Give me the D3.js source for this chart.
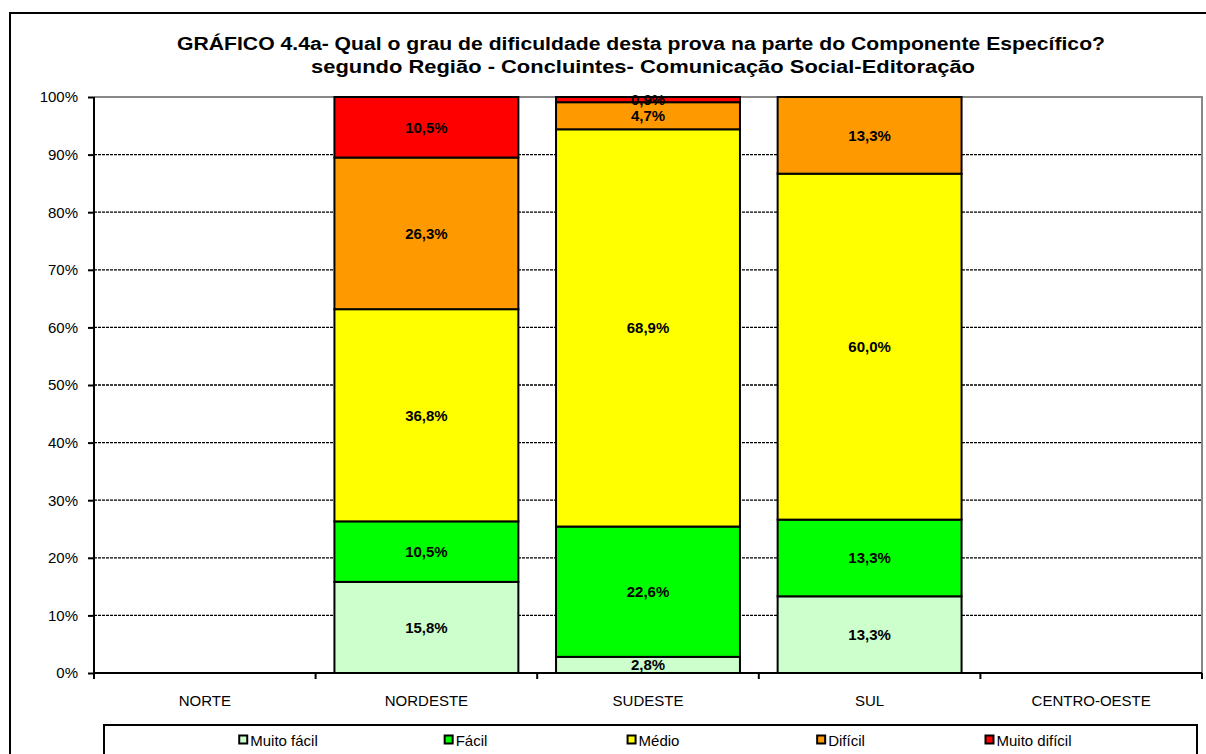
<!DOCTYPE html>
<html>
<head>
<meta charset="utf-8">
<script src="https://cdn.jsdelivr.net/npm/d3@7"></script>
<style>
  body { margin: 0; background: #fff; }
  svg { display: block; font-family: "Liberation Sans", Arial, sans-serif; }
</style>
</head>
<body>
<div id="chart"></div>
<script>
const regions = ['NORTE', 'NORDESTE', 'SUDESTE', 'SUL', 'CENTRO-OESTE']
const levels = ['Muito fácil', 'Fácil', 'Médio', 'Difícil', 'Muito difícil']
const muitoFacil = [null, 15.8, 2.8, 13.3, null]
const facil = [null, 10.5, 22.6, 13.3, null]
const medio = [null, 36.8, 68.9, 60.0, null]
const dificil = [null, 26.3, 4.7, 13.3, null]
const muitoDificil = [null, 10.5, 0.9, null, null]
const colors = ['#CCFFCC', '#00FF00', '#FFFF00', '#FF9900', '#FF0000']
const yTicks = [0, 10, 20, 30, 40, 50, 60, 70, 80, 90, 100]

const series = [muitoFacil, facil, medio, dificil, muitoDificil]

const W = 1206, H = 754
const svg = d3.select('#chart').append('svg').attr('width', W).attr('height', H)

// outer frame
svg.append('rect')
    .attr('x', 10).attr('y', 13).attr('width', W + 10).attr('height', H + 10)
    .attr('fill', 'none').attr('stroke', '#000').attr('stroke-width', 2)

// title
const title = svg.append('text')
    .attr('text-anchor', 'middle')
    .style('font-weight', 'bold').style('font-size', '18px')
title.append('tspan').attr('x', 641).attr('y', 50)
    .attr('textLength', 928).attr('lengthAdjust', 'spacingAndGlyphs')
    .text('GRÁFICO 4.4a- Qual o grau de dificuldade desta prova na parte do Componente Específico?')
title.append('tspan').attr('x', 643).attr('y', 73)
    .attr('textLength', 664).attr('lengthAdjust', 'spacingAndGlyphs')
    .text('segundo Região - Concluintes- Comunicação Social-Editoração')

const margin = { top: 97, left: 94, right: 4, bottom: 81 }
const width = W - margin.left - margin.right
const height = H - margin.top - margin.bottom
const g = svg.append('g').attr('transform', `translate(${margin.left},${margin.top})`)

const x = d3.scaleBand().domain(regions).range([0, width]).paddingInner(0.17).paddingOuter(0.085)
const xBounds = d3.scaleBand().domain(regions).range([0, width])
const y = d3.scaleLinear().domain([0, 100]).range([height, 0])

// gridlines
g.selectAll('.grid').data(yTicks.filter((t) => t > 0 && t < 100)).enter()
    .append('line')
    .attr('x1', 0).attr('x2', width)
    .attr('y1', (d) => y(d)).attr('y2', (d) => y(d))
    .attr('stroke', '#000').attr('stroke-width', 1.3).attr('stroke-dasharray', '3,1')

// plot area border (top/right gray)
g.append('path')
    .attr('d', `M0,${y(100)}H${width}V${height}`)
    .attr('fill', 'none').attr('stroke', '#888').attr('stroke-width', 2)

// stacked data
const rows = regions.map((r, i) => {
    const vals = series.map((s) => s[i] || 0)
    const total = d3.sum(vals)
    let acc = 0
    return vals.map((v, k) => {
        const y0 = total ? acc / total * 100 : 0
        acc += v
        const y1 = total ? acc / total * 100 : 0
        return { region: r, level: k, value: series[k][i], y0, y1 }
    })
})
const segs = rows.flat().filter((d) => d.value)

g.selectAll('.seg').data(segs).enter()
    .append('rect')
    .attr('x', (d) => x(d.region))
    .attr('width', x.bandwidth())
    .attr('y', (d) => y(d.y1))
    .attr('height', (d) => y(d.y0) - y(d.y1))
    .attr('fill', (d) => colors[d.level])
    .attr('stroke', '#000').attr('stroke-width', 2)

g.selectAll('.lbl').data(segs).enter()
    .append('text')
    .attr('x', (d) => x(d.region) + x.bandwidth() / 2)
    .attr('y', (d) => (y(d.y0) + y(d.y1)) / 2)
    .attr('dy', '0.36em')
    .attr('text-anchor', 'middle')
    .style('font-weight', 'bold').style('font-size', '15px')
    .text((d) => d3.format('.1f')(d.value).replace('.', ',') + '%')

// y axis
const yAxis = g.append('g')
    .call(d3.axisLeft(y).tickValues(yTicks).tickSize(6).tickPadding(10).tickFormat((d) => d + '%'))
yAxis.select('.domain').attr('stroke-width', 2).attr('d', `M0,${y(100)}V${height}`)
yAxis.selectAll('.tick line').attr('stroke-width', 2)
yAxis.selectAll('text').style('font-size', '15px').style('font-family', '"Liberation Sans", Arial, sans-serif')

// x axis
const xAxis = g.append('g').attr('transform', `translate(0,${height})`)
xAxis.append('line').attr('x1', 0).attr('x2', width).attr('stroke', '#000').attr('stroke-width', 2)
xAxis.selectAll('.xt').data(regions.concat(['end'])).enter()
    .append('line')
    .attr('x1', (d) => d === 'end' ? width : xBounds(d))
    .attr('x2', (d) => d === 'end' ? width : xBounds(d))
    .attr('y1', 0).attr('y2', 6)
    .attr('stroke', '#000').attr('stroke-width', 2)
xAxis.selectAll('.xl').data(regions).enter()
    .append('text')
    .attr('x', (d) => xBounds(d) + xBounds.bandwidth() / 2)
    .attr('y', 33)
    .attr('text-anchor', 'middle')
    .style('font-size', '15px')
    .text((d) => d)

// legend
svg.append('rect')
    .attr('x', 104).attr('y', 725).attr('width', 1093).attr('height', 60)
    .attr('fill', 'none').attr('stroke', '#000').attr('stroke-width', 2)
const lx = d3.scalePoint().domain(levels).range([278, 1028])
const items = svg.selectAll('.leg').data(levels).enter()
    .append('g')
items.append('text')
    .attr('y', 746)
    .style('font-size', '15px')
    .text((d) => d)
items.each(function (d, i) {
    const it = d3.select(this)
    const tw = it.select('text').node().getComputedTextLength()
    const total = tw + 12
    const start = lx(d) - total / 2
    it.select('text').attr('x', start + 12)
    it.append('rect')
        .attr('x', start + 1).attr('y', 735.5)
        .attr('width', 8).attr('height', 8)
        .attr('fill', colors[i]).attr('stroke', '#000').attr('stroke-width', 2)
})
</script>
</body>
</html>
